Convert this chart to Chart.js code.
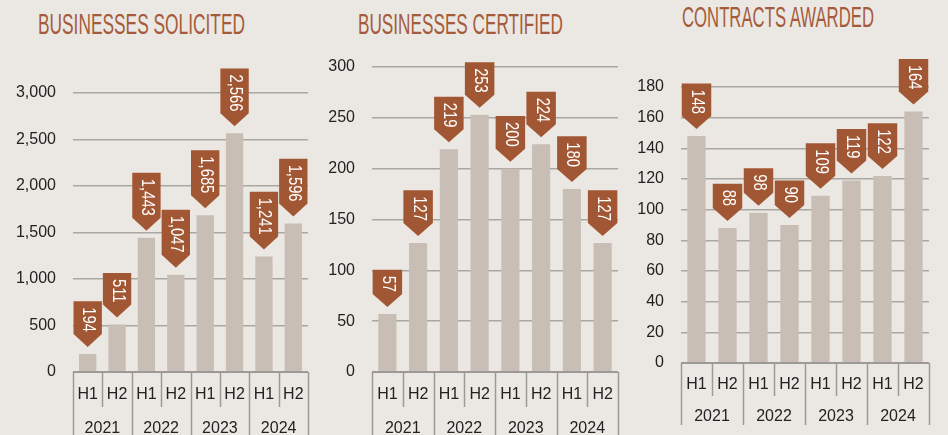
<!DOCTYPE html>
<html>
<head>
<meta charset="utf-8">
<script src="https://cdn.jsdelivr.net/npm/chart.js@4.4.1/dist/chart.umd.min.js"></script>
<style>
  html, body { margin: 0; padding: 0; }
  body { width: 948px; height: 435px; background: #ebe8e3; position: relative; overflow: hidden; }
  canvas { position: absolute; top: 0; }
  .title {
    position: absolute;
    font-family: "Liberation Sans", Arial, sans-serif;
    font-size: 29px;
    line-height: 29px;
    color: #a55b3b;
    white-space: nowrap;
    transform-origin: 0 0;
  }
</style>
</head>
<body>
<div class="title" id="t1" style="left:38px; top:10px" data-w="207">BUSINESSES SOLICITED</div>
<div class="title" id="t2" style="left:358px; top:10px" data-w="205">BUSINESSES CERTIFIED</div>
<div class="title" id="t3" style="left:682px; top:3px" data-w="192">CONTRACTS AWARDED</div>

<canvas id="c1" width="316" height="435" style="left:0px"></canvas>
<canvas id="c2" width="316" height="435" style="left:316px"></canvas>
<canvas id="c3" width="316" height="435" style="left:632px"></canvas>

<script>
const periods = ["H1", "H2", "H1", "H2", "H1", "H2", "H1", "H2"];
const years = ["2021", "2022", "2023", "2024"];
const solicited = [194, 511, 1443, 1047, 1685, 2566, 1241, 1596];
const certified = [57, 127, 219, 253, 200, 224, 180, 127];
const awarded = [148, 88, 98, 90, 109, 119, 122, 164];

const barColor = "#c9beb5";
const flagColor = "#a25734";
const gridColor = "#aaa7a2";
const axisColor = "#9c9a96";
const textColor = "#222222";
const font = "'Liberation Sans', Arial, sans-serif";
const flagSqueeze = 0.82;

// squeeze the titles into the width they take in the picture
document.querySelectorAll(".title").forEach((el) => {
  const w = el.getBoundingClientRect().width;
  el.style.transform = "scaleX(" + (el.dataset.w / w) + ")";
});

// brown arrow flags with the values, written downwards
const flags = {
  id: "flags",
  afterDatasetsDraw(chart) {
    const { ctx, scales: { x } } = chart;
    const catW = x.getPixelForValue(1) - x.getPixelForValue(0);
    const fw = Math.min(catW - 1, 29.5);
    ctx.save();
    ctx.font = "18px " + font;
    chart.getDatasetMeta(0).data.forEach((bar, i) => {
      const label = chart.data.datasets[0].data[i].toLocaleString("en-US");
      const tw = ctx.measureText(label).width * flagSqueeze;
      const tip = bar.y - 7;
      const rectBottom = tip - 13;
      const top = rectBottom - tw - 8;
      ctx.fillStyle = flagColor;
      ctx.beginPath();
      ctx.moveTo(bar.x - fw / 2, top);
      ctx.lineTo(bar.x + fw / 2, top);
      ctx.lineTo(bar.x + fw / 2, rectBottom);
      ctx.lineTo(bar.x, tip);
      ctx.lineTo(bar.x - fw / 2, rectBottom);
      ctx.closePath();
      ctx.fill();

      ctx.save();
      ctx.translate(bar.x + 0.5, top + 6);
      ctx.rotate(Math.PI / 2);
      ctx.scale(flagSqueeze, 1);
      ctx.fillStyle = "#ffffff";
      ctx.textAlign = "left";
      ctx.textBaseline = "middle";
      ctx.fillText(label, 0, 0);
      ctx.restore();
    });
    ctx.restore();
  },
};

// two level category axis: H1/H2 boxes under the bars, years below
const groupAxis = {
  id: "groupAxis",
  afterDraw(chart, args, opts) {
    const { ctx, chartArea: { left, right, bottom }, scales: { x } } = chart;
    const catW = x.getPixelForValue(1) - x.getPixelForValue(0);
    ctx.save();
    ctx.strokeStyle = axisColor;
    ctx.lineWidth = 1.5;
    for (let i = 0; i <= periods.length; i++) {
      const px = Math.round(x.getPixelForValue(0) - catW / 2 + i * catW) + 0.5;
      ctx.beginPath();
      ctx.moveTo(px, bottom);
      ctx.lineTo(px, i % 2 === 0 ? opts.yearEnd : opts.halfEnd);
      ctx.stroke();
    }
    ctx.lineWidth = 2;
    ctx.beginPath();
    ctx.moveTo(left, bottom);
    ctx.lineTo(right, bottom);
    ctx.stroke();

    ctx.fillStyle = textColor;
    ctx.font = "16px " + font;
    ctx.textAlign = "center";
    ctx.textBaseline = "middle";
    periods.forEach((p, i) => ctx.fillText(p, x.getPixelForValue(i), opts.halfY));
    years.forEach((yr, i) => {
      const cx = (x.getPixelForValue(i * 2) + x.getPixelForValue(i * 2 + 1)) / 2;
      ctx.fillText(yr, cx, opts.yearY);
    });
    ctx.restore();
  },
};

function makeChart(id, values, max, step, area, rows) {
  return new Chart(document.getElementById(id), {
    type: "bar",
    data: {
      labels: periods,
      datasets: [{
        data: values,
        backgroundColor: barColor,
        barPercentage: 0.59,
        categoryPercentage: 1,
      }],
    },
    options: {
      responsive: false,
      animation: false,
      layout: {
        padding: { left: 0, top: area.top, right: area.right, bottom: area.bottom },
      },
      plugins: {
        legend: { display: false },
        tooltip: { enabled: false },
        groupAxis: rows,
      },
      scales: {
        x: { display: false },
        y: {
          min: 0,
          max: max,
          afterFit(scale) {
            scale.width = area.left;
          },
          ticks: {
            stepSize: step,
            padding: 17,
            color: textColor,
            font: { family: font, size: 16 },
            callback: (v) => v.toLocaleString("en-US"),
          },
          grid: { color: gridColor, lineWidth: 1.5, drawTicks: false },
          border: { display: false },
        },
      },
    },
    plugins: [groupAxis, flags],
  });
}

makeChart("c1", solicited, 3000, 500,
  { left: 73, top: 93, right: 8, bottom: 63 },
  { halfEnd: 407, yearEnd: 435, halfY: 395, yearY: 429 });
makeChart("c2", certified, 300, 50,
  { left: 56, top: 67, right: 14, bottom: 63 },
  { halfEnd: 407, yearEnd: 435, halfY: 395, yearY: 429 });
makeChart("c3", awarded, 180, 20,
  { left: 49, top: 87, right: 19, bottom: 72 },
  { halfEnd: 396, yearEnd: 425, halfY: 385, yearY: 417 });
</script>
</body>
</html>
